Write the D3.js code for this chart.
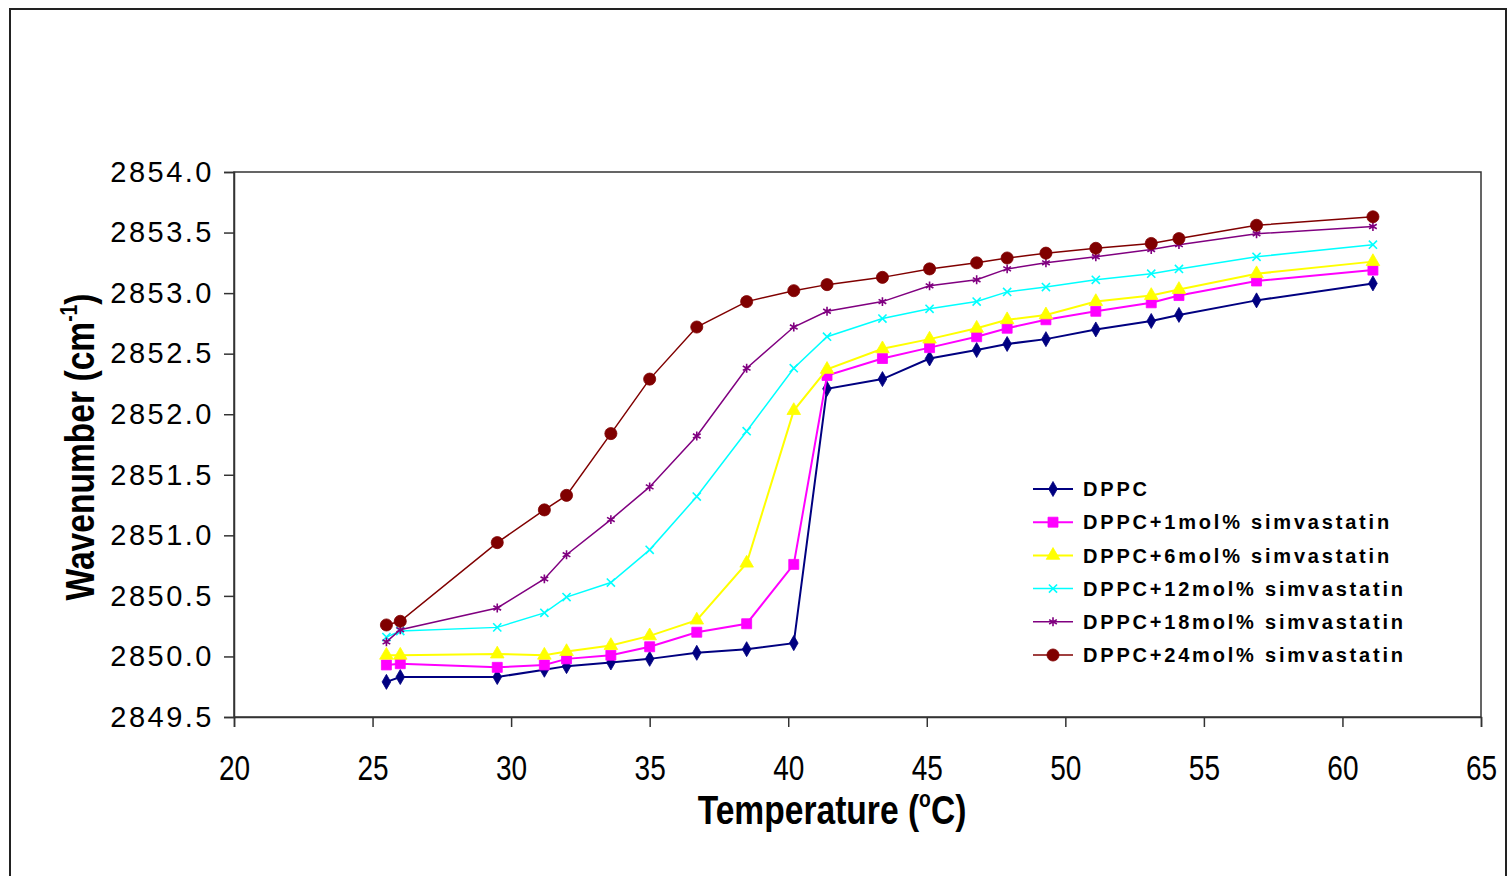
<!DOCTYPE html>
<html lang="en">
<head>
<meta charset="utf-8">
<script src="https://d3js.org/d3.v7.min.js"></script>
<title>Wavenumber vs temperature, DPPC / simvastatin</title>
<style>
  body { margin: 0; background: #fff; }
</style>
</head>
<body>
<script>

// temperatures (deg C) shared by every series
var temps = [25.5, 26.0, 29.5, 31.2, 32.0, 33.6, 35.0, 36.7, 38.5, 40.2, 41.4,
             43.4, 45.1, 46.8, 47.9, 49.3, 51.1, 53.1, 54.1, 56.9, 61.1];

// wavenumbers (cm-1)
var dppc  = [2849.79, 2849.83, 2849.83, 2849.89, 2849.92, 2849.95, 2849.98, 2850.03, 2850.06, 2850.11, 2852.21,
             2852.29, 2852.46, 2852.53, 2852.58, 2852.62, 2852.70, 2852.77, 2852.82, 2852.94, 2853.08];
var simv1 = [2849.93, 2849.94, 2849.91, 2849.93, 2849.98, 2850.01, 2850.08, 2850.20, 2850.27, 2850.76, 2852.32,
             2852.46, 2852.55, 2852.64, 2852.71, 2852.78, 2852.85, 2852.92, 2852.98, 2853.10, 2853.19];
var simv6 = [2850.01, 2850.01, 2850.02, 2850.01, 2850.04, 2850.09, 2850.17, 2850.30, 2850.77, 2852.03, 2852.37,
             2852.54, 2852.62, 2852.71, 2852.78, 2852.82, 2852.93, 2852.98, 2853.03, 2853.16, 2853.26];
var simv12 = [2850.16, 2850.21, 2850.24, 2850.36, 2850.49, 2850.61, 2850.88, 2851.32, 2851.86, 2852.38, 2852.64,
              2852.79, 2852.87, 2852.93, 2853.01, 2853.05, 2853.11, 2853.16, 2853.20, 2853.30, 2853.40];
var simv18 = [2850.12, 2850.22, 2850.40, 2850.64, 2850.84, 2851.13, 2851.40, 2851.82, 2852.38, 2852.72, 2852.85,
              2852.93, 2853.06, 2853.11, 2853.20, 2853.25, 2853.30, 2853.36, 2853.40, 2853.49, 2853.55];
var simv24 = [2850.26, 2850.29, 2850.94, 2851.21, 2851.33, 2851.84, 2852.29, 2852.72, 2852.93, 2853.02, 2853.07,
              2853.13, 2853.20, 2853.25, 2853.29, 2853.33, 2853.37, 2853.41, 2853.45, 2853.56, 2853.63];

var seriesNames = ["DPPC", "DPPC+1mol% simvastatin", "DPPC+6mol% simvastatin",
                   "DPPC+12mol% simvastatin", "DPPC+18mol% simvastatin", "DPPC+24mol% simvastatin"];

var xTickValues = [20, 25, 30, 35, 40, 45, 50, 55, 60, 65];
var yTickValues = [2849.5, 2850.0, 2850.5, 2851.0, 2851.5, 2852.0, 2852.5, 2853.0, 2853.5, 2854.0];

var allValues = [dppc, simv1, simv6, simv12, simv18, simv24];

// look of each series
var colors  = ["#000080", "#ff00ff", "#ffff00", "#00ffff", "#800080", "#800000"];
var widths  = [2, 2, 2, 1.5, 1.5, 1.5];
var symbols = [d3.symbolDiamond, d3.symbolSquare, d3.symbolTriangle, d3.symbolTimes, d3.symbolAsterisk, d3.symbolCircle];
var symSize = [65, 100, 80, 45, 55, 115];
var stroked = [false, false, false, true, true, false];

var W = 1511, H = 876;
var plot = {left: 234, right: 1481, top: 172, bottom: 717};

var sans = "'Liberation Sans', Arial, sans-serif";

var svg = d3.select("body")
  .append("svg")
    .attr("width", W)
    .attr("height", H)
    .style("display", "block");

// outer chart frame
svg.append("rect")
  .attr("x", 10).attr("y", 9)
  .attr("width", 1496).attr("height", 900)
  .attr("fill", "#fff")
  .attr("stroke", "#222")
  .attr("stroke-width", 2);

var x = d3.scaleLinear()
  .domain([20, 65])
  .range([plot.left, plot.right]);

var y = d3.scaleLinear()
  .domain([2849.5, 2854])
  .range([plot.bottom, plot.top]);

// plot area border
svg.append("rect")
  .attr("x", plot.left).attr("y", plot.top)
  .attr("width", plot.right - plot.left)
  .attr("height", plot.bottom - plot.top)
  .attr("fill", "none")
  .attr("stroke", "#333")
  .attr("stroke-width", 1.5);

var xAxis = svg.append("g")
  .attr("transform", "translate(0," + plot.bottom + ")")
  .call(d3.axisBottom(x).tickValues(xTickValues).tickSize(10).tickPadding(0).tickFormat(d3.format("d")));

var yAxis = svg.append("g")
  .attr("transform", "translate(" + plot.left + ",0)")
  .call(d3.axisLeft(y).tickValues(yTickValues).tickSize(10).tickPadding(14).tickFormat(d3.format(".1f")));

[xAxis, yAxis].forEach(function(g) {
  g.select(".domain").attr("stroke", "#333").attr("stroke-width", 1.5);
  g.selectAll(".tick line").attr("stroke", "#333").attr("stroke-width", 1.5);
});

// narrow digits under the x axis
xAxis.selectAll(".tick text")
  .attr("font-family", sans)
  .attr("font-size", 35)
  .attr("fill", "#000")
  .attr("y", 0)
  .attr("dy", 0)
  .attr("transform", "translate(0,63) scale(0.8,1)");

yAxis.selectAll(".tick text")
  .attr("font-family", sans)
  .attr("font-size", 29)
  .attr("letter-spacing", "2.5px")
  .attr("dx", "4px")
  .attr("fill", "#000");

// axis titles (condensed bold)
var xTitle = svg.append("text")
  .attr("transform", "translate(832,824) scale(0.84,1)")
  .attr("text-anchor", "middle")
  .attr("font-family", sans)
  .attr("font-weight", "bold")
  .attr("font-size", 40)
  .attr("fill", "#000");
xTitle.append("tspan").text("Temperature (");
xTitle.append("tspan").attr("font-size", 23).attr("dy", -17).text("o");
xTitle.append("tspan").attr("dy", 17).text("C)");

var yTitle = svg.append("text")
  .attr("transform", "translate(94,447) rotate(-90) scale(0.84,1)")
  .attr("text-anchor", "middle")
  .attr("font-family", sans)
  .attr("font-weight", "bold")
  .attr("font-size", 40)
  .attr("fill", "#000");
yTitle.append("tspan").text("Wavenumber (cm");
yTitle.append("tspan").attr("font-size", 23).attr("dy", -17).text("-1");
yTitle.append("tspan").attr("dy", 17).text(")");

var line = d3.line()
  .x(function(d) { return x(d.t); })
  .y(function(d) { return y(d.v); });

function drawMarker(g, i, px, py) {
  var m = g.append("path")
    .attr("d", d3.symbol().type(symbols[i]).size(symSize[i])())
    .attr("transform", "translate(" + px + "," + py + ")");
  if (stroked[i]) {
    m.attr("fill", "none").attr("stroke", colors[i]).attr("stroke-width", 1.6);
  } else {
    m.attr("fill", colors[i]).attr("stroke", colors[i]).attr("stroke-width", 0.8);
  }
}

allValues.forEach(function(vals, i) {
  var data = temps.map(function(t, k) { return {t: t, v: vals[k]}; });
  var g = svg.append("g");
  g.append("path")
    .datum(data)
    .attr("fill", "none")
    .attr("stroke", colors[i])
    .attr("stroke-width", widths[i])
    .attr("d", line);
  data.forEach(function(d) {
    drawMarker(g, i, x(d.t), y(d.v));
  });
});

// legend
var legend = svg.append("g").attr("transform", "translate(1033,489)");
seriesNames.forEach(function(name, i) {
  var row = legend.append("g").attr("transform", "translate(0," + (i * 33.2) + ")");
  row.append("line")
    .attr("x1", 0).attr("x2", 40)
    .attr("stroke", colors[i])
    .attr("stroke-width", widths[i]);
  drawMarker(row, i, 20, 0);
  row.append("text")
    .attr("x", 50)
    .attr("dy", "0.36em")
    .attr("font-family", sans)
    .attr("font-weight", "bold")
    .attr("font-size", 20)
    .attr("letter-spacing", "2.8px")
    .attr("fill", "#000")
    .text(name);
});

</script>
</body>
</html>
